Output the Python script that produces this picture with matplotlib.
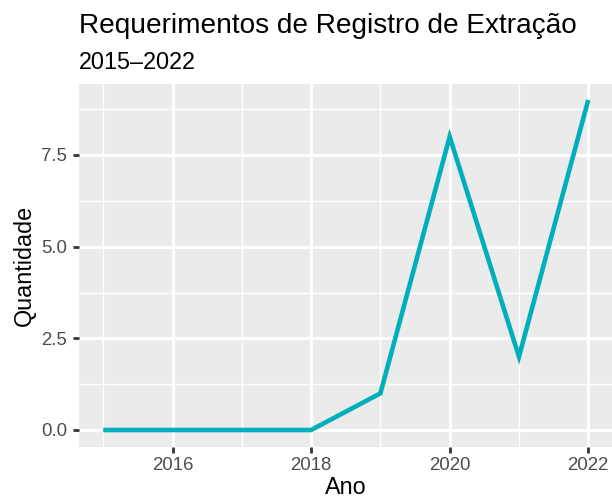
import matplotlib
matplotlib.use("Agg")
import matplotlib.pyplot as plt
from matplotlib.ticker import MultipleLocator, FormatStrFormatter

plt.rcParams['font.family'] = ['Liberation Sans', 'DejaVu Sans']

anos = [2015, 2016, 2017, 2018, 2019, 2020, 2021, 2022]
quantidade = [0, 0, 0, 0, 1, 8, 2, 9]

W, H = 612, 500
fig = plt.figure(figsize=(W / 100, H / 100), dpi=100)
# painel: esquerda 79px, direita ~612.5px, topo 83.5px, base 446.5px
ax = fig.add_axes([79 / W, (H - 446.5) / H, 533.5 / W, 363 / H])

ax.set_facecolor('#EBEBEB')
ax.plot(anos, quantidade, color='#00AFBB', linewidth=3.3, solid_capstyle='butt',
        solid_joinstyle='miter', zorder=3)

ax.set_xlim(2015 - 0.35, 2022 + 0.35)
ax.set_ylim(-0.45, 9.45)
ax.xaxis.set_major_locator(MultipleLocator(2))
ax.xaxis.set_minor_locator(MultipleLocator(1))
ax.yaxis.set_major_locator(MultipleLocator(2.5))
ax.yaxis.set_minor_locator(MultipleLocator(1.25))
ax.yaxis.set_major_formatter(FormatStrFormatter('%.1f'))

ax.grid(which='major', color='white', linewidth=2.1, zorder=0)
ax.grid(which='minor', color='white', linewidth=1.05, zorder=0)
ax.set_axisbelow(True)
for s in ax.spines.values():
    s.set_visible(False)

ax.tick_params(which='major', length=4.3, width=2.0, color='#333333',
               labelsize=13.4, labelcolor='#4D4D4D')
ax.tick_params(axis='y', which='major', pad=4.3)
ax.tick_params(axis='x', which='major', pad=3.5)
ax.tick_params(which='minor', length=0)

ax.set_xlabel('Ano', fontsize=16.8, va='baseline')
ax.xaxis.set_label_coords(0.5, (H - 494 - (H - 446.5)) / 363)
ax.set_ylabel('Quantidade', fontsize=16.8, va='baseline')
ax.yaxis.set_label_coords((31 - 79) / 533.5, 0.5)

fig.text(79 / W, 1 - 33.3 / H, 'Requerimentos de Registro de Extração', fontsize=20.2,
         va='baseline', ha='left')
fig.text(79 / W, 1 - 69 / H, '2015\u20132022', fontsize=16.8, va='baseline', ha='left')

fig.savefig('out.png', dpi=100)
